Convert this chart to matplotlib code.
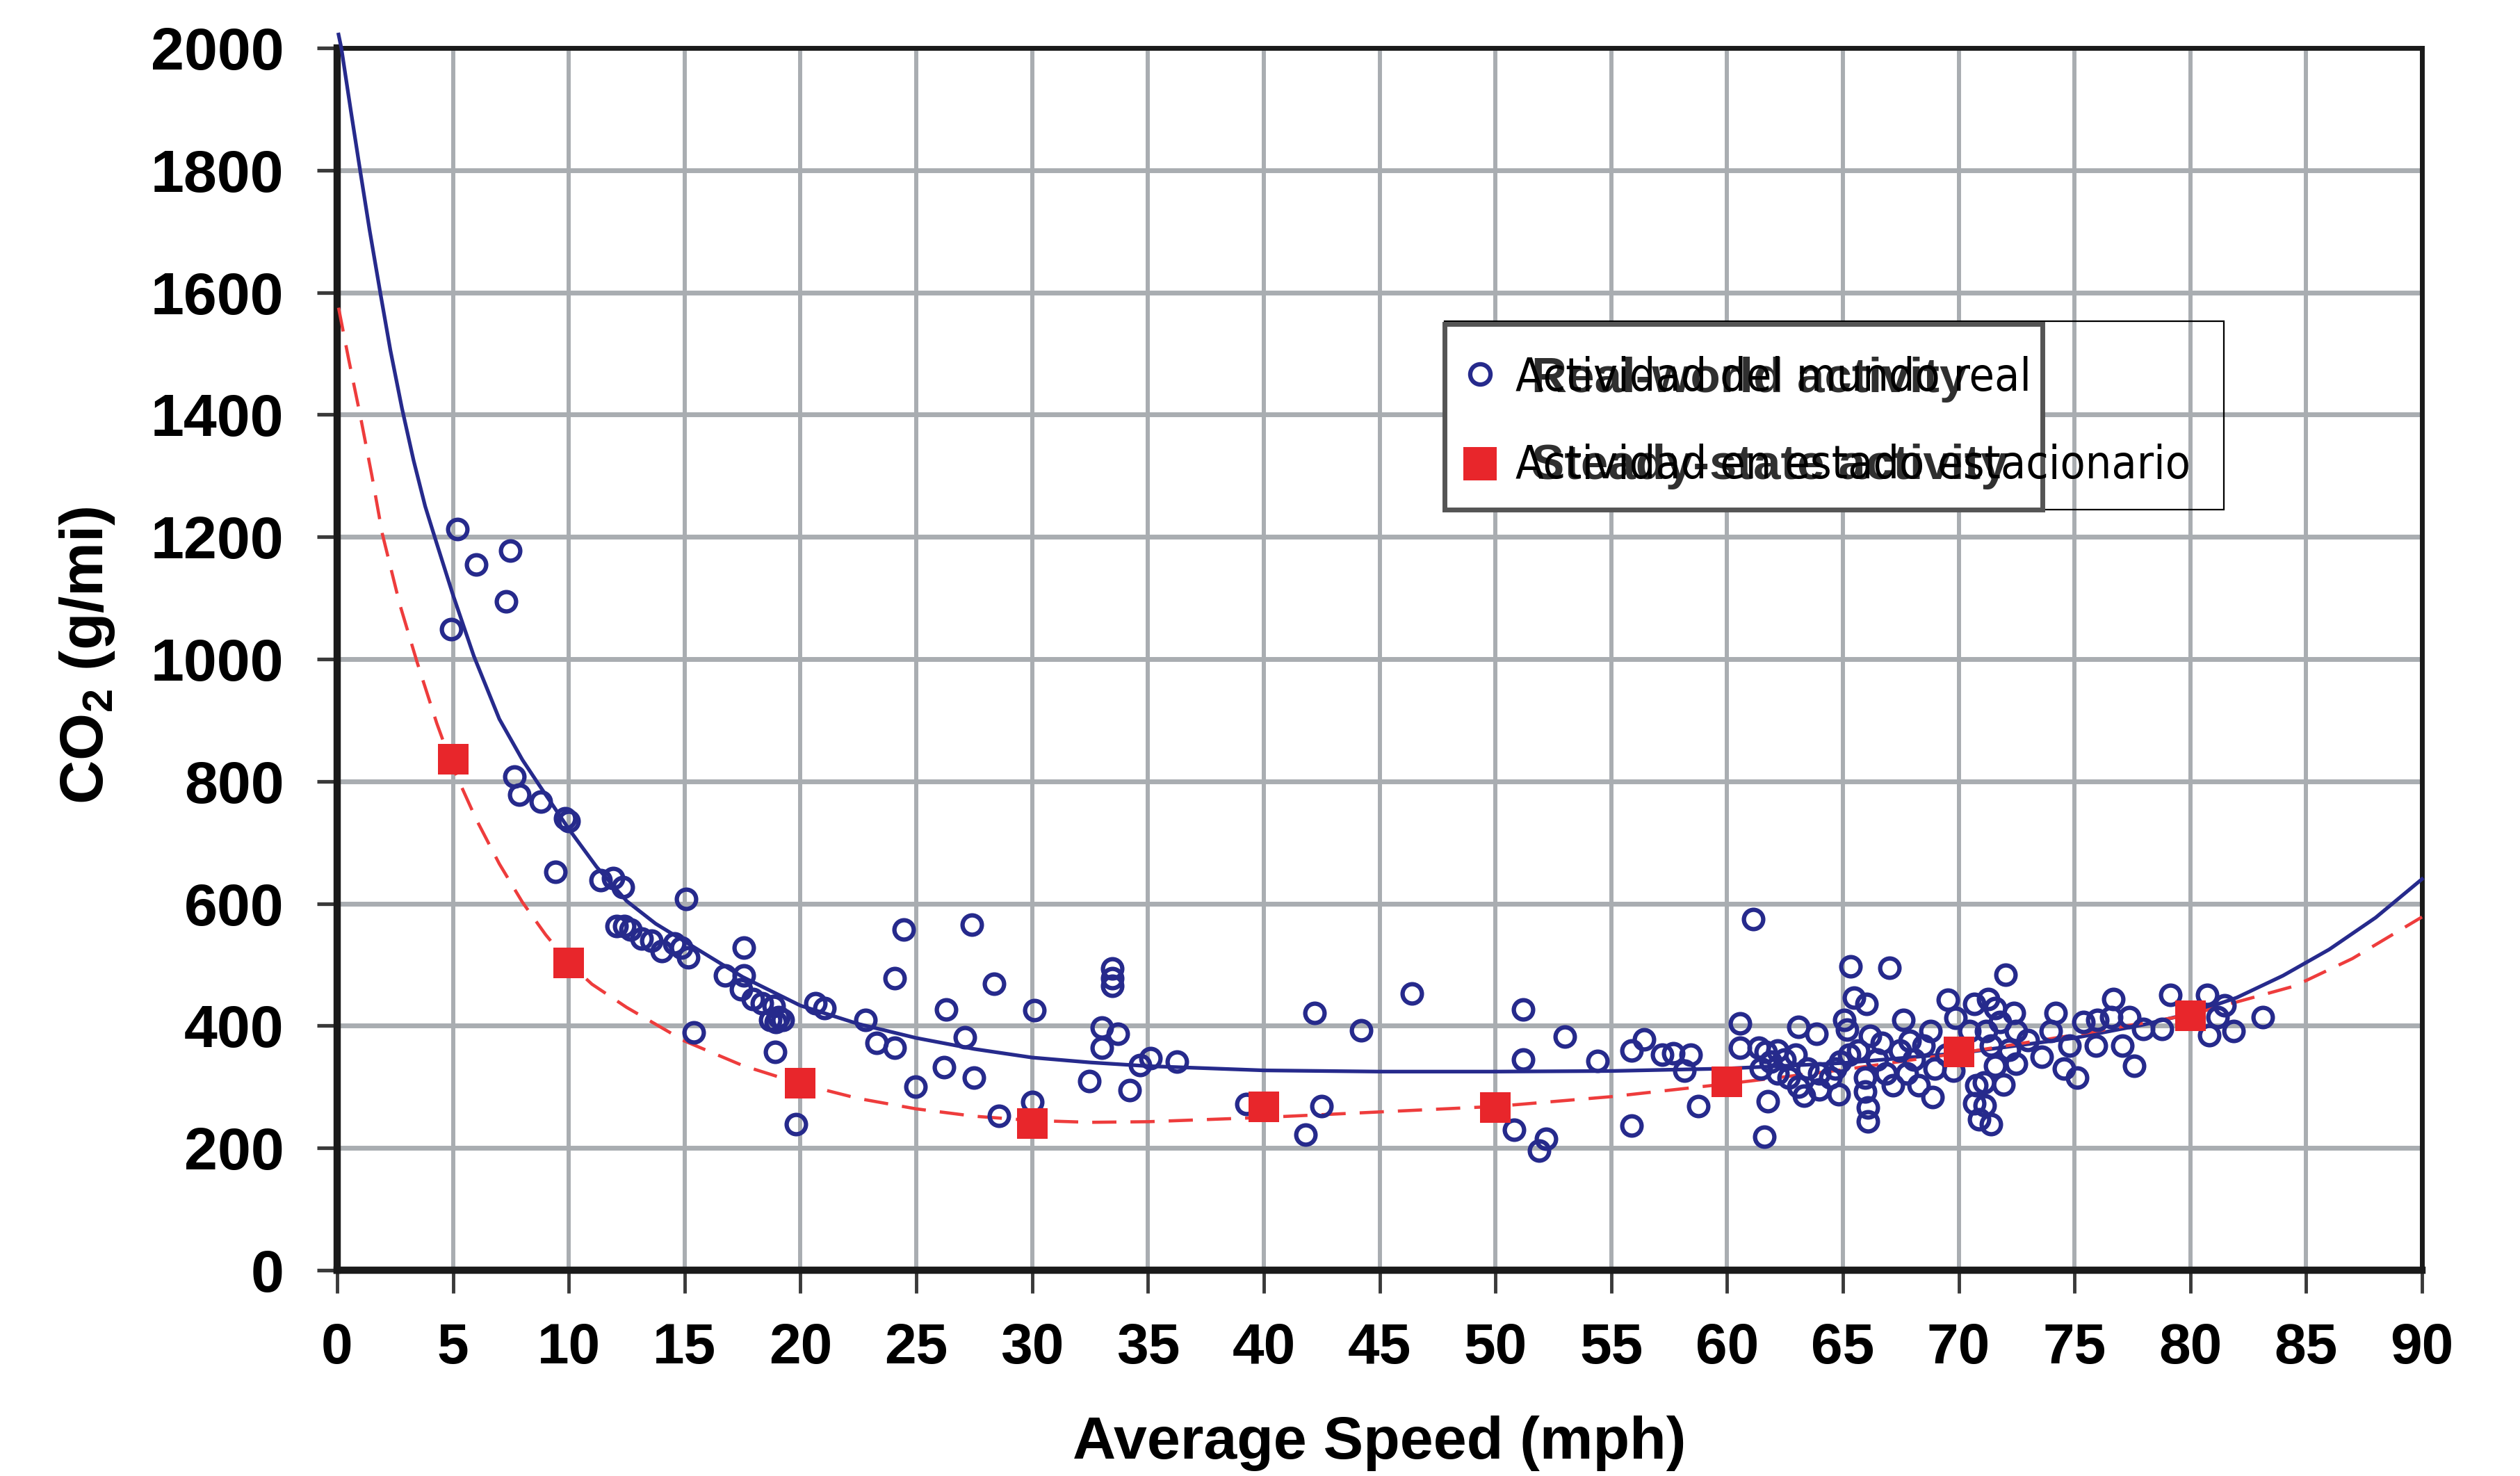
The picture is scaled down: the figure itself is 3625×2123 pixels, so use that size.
import numpy as np
import matplotlib
matplotlib.use("Agg")
import matplotlib.pyplot as plt
from matplotlib.patches import Rectangle
from matplotlib.lines import Line2D

# Data
# Real-world activity (scatter): average speed (mph), CO2 (g/mi)
real_speed = [4.92, 5.19, 6.0, 7.3, 7.47, 7.65, 7.85, 8.8, 9.42, 9.85, 10.0,
              11.37, 11.9, 12.33, 12.07, 12.4, 12.66, 13.15, 13.55, 14.0, 14.55, 14.85, 15.07, 15.15, 15.4,
              16.75, 17.45, 17.56, 17.56, 17.95, 18.35, 18.85, 18.7, 18.95, 19.06, 19.25, 18.9, 19.8,
              20.65, 21.05, 22.8, 23.3, 24.06, 24.06, 24.46, 24.97,
              26.2, 26.3, 27.1, 27.4, 27.5, 28.36, 28.57, 30.1, 30.0,
              32.47, 33.0, 33.0, 33.46, 33.46, 33.46, 33.7, 34.2, 34.66, 35.1, 36.25, 39.25,
              41.8, 42.2, 42.5, 44.2, 46.4,
              50.8, 51.2, 51.2, 51.9, 52.2, 53.0, 54.4, 55.88, 55.88, 56.41, 57.2, 57.67, 58.42, 58.17, 58.77,
              60.57, 60.57, 61.12, 61.37, 61.67, 61.47, 61.77, 61.62, 61.87, 62.17, 62.17, 62.47, 62.67,
              62.97, 63.07, 63.07, 63.32, 63.47, 63.87, 63.97, 63.97, 64.47, 64.67, 64.82, 64.87, 65.07,
              65.17, 65.32, 65.47, 66.02, 65.27, 65.67, 65.97, 65.97, 66.07, 66.07, 66.17, 66.47, 66.67,
              66.87, 67.02, 67.17, 67.47, 67.62, 67.77, 67.87, 68.07, 68.27, 68.47, 68.77, 68.87, 68.97,
              69.47, 69.52, 69.87, 69.77, 70.47, 70.67, 70.77, 70.67, 70.87,
              72.03, 71.28, 71.58, 71.18, 71.78, 72.38, 72.48, 71.38, 72.18, 71.58, 72.48, 71.93, 71.08,
              71.13, 71.38, 72.98, 73.58, 74.18, 73.98, 74.53, 75.13, 74.78, 75.38, 75.93, 75.98, 76.58,
              76.68, 77.08, 77.38, 77.58, 77.98, 78.78, 79.13, 80.73, 81.18, 80.83, 81.88, 81.48, 83.13]
real_co2 = [1049, 1213, 1155, 1094, 1178, 808, 778, 767, 652, 740, 735,
            638, 642, 627, 563, 563, 557, 543, 539, 522, 535, 528, 607, 512, 389,
            482, 460, 528, 482, 444, 437, 432, 410, 406, 414, 410, 357, 239,
            437, 429, 410, 372, 364, 478, 557, 300,
            332, 427, 381, 565, 315, 469, 253, 425, 275,
            309, 397, 364, 494, 478, 465, 387, 295, 336, 347, 341, 272,
            222, 421, 269, 392, 453,
            230, 427, 345, 196, 215, 382, 343, 237, 360, 378, 353, 355, 353, 326, 269,
            404, 364, 575, 364, 357, 330, 277, 218, 341, 360, 322, 345, 315,
            353, 398, 300, 286, 330, 387, 322, 296, 315, 330, 288, 341, 410,
            394, 497, 446, 436, 353, 360, 315, 292, 266, 243, 383, 345, 372,
            322, 495, 303, 360, 410, 322, 375, 345, 303, 368, 391, 283, 330,
            353, 442, 413, 326, 391, 436, 303, 273, 247,
            484, 444, 429, 391, 406, 421, 391, 368, 361, 334, 338, 304, 307,
            270, 239, 376, 349, 421, 391, 330, 315, 368, 406, 368, 410, 414,
            444, 368, 414, 334, 395, 395, 451, 451, 414, 385, 391, 433, 414]

# Steady-state activity (squares)
steady_speed = [5, 10, 20, 30, 40, 50, 60, 70, 80]
steady_co2 = [836, 503, 306, 240, 267, 266, 308, 357, 416]

# Fitted curve through real-world activity (solid blue)
fit_real_speed = [0.06, 0.18, 0.6, 0.99, 1.4, 1.86, 2.3, 2.8, 3.3, 3.8, 4.25, 5.0, 5.9, 7.0, 8.0,
                  8.7, 10.0, 11.2, 12.5, 13.75, 15.0, 17.5, 20.0, 22.5, 25.0, 27.5, 30.0, 32.5,
                  35.0, 40.0, 45.0, 50.0, 55.0, 60.0, 65.0, 70.0, 75.0, 78.0, 80.0, 82.0, 84.0,
                  86.0, 88.0, 90.0]
fit_real_co2 = [2022, 2000, 1895, 1800, 1702, 1600, 1505, 1410, 1325, 1250, 1195, 1105, 1005, 902, 835,
                795, 722, 660, 604, 567, 538, 480, 433, 403, 380, 362, 348, 340,
                334, 327, 325, 325, 326, 330, 339, 355, 380, 402, 420, 446, 482,
                525, 577, 640]

# Fitted curve through steady-state activity (dashed red)
fit_steady_speed = [0.06, 0.5, 1.0, 1.5, 1.95, 2.7, 3.45, 4.3, 5.0, 6.0, 7.0, 8.0, 9.0, 10.0, 11.0,
                    12.5, 15.0, 17.5, 20.0, 22.5, 25.0, 27.5, 30.0, 32.5, 35.0, 40.0, 45.0, 50.0,
                    55.0, 60.0, 65.0, 70.0, 75.0, 80.0, 84.5, 87.0, 90.0]
fit_steady_co2 = [1575, 1490, 1398, 1300, 1205, 1090, 995, 895, 822, 738, 665, 602, 549, 503, 468,
                  430, 375, 335, 305, 281, 264, 252, 245, 242, 243, 250, 259, 268,
                  284, 305, 328, 355, 385, 418, 465, 510, 578]

x_ticks = np.arange(0, 91, 5)
y_ticks = np.arange(0, 2001, 200)

label_en = ["Real-world activity", "Steady-state activity"]
label_es = ["Actividad del mundo real", "Actividad en estado estacionario"]

BLUE = "#262a8c"
RED = "#e8262b"
RED_LINE = "#ee3c3c"
GRID = "#a9adb1"

plt.rcParams["font.family"] = "Liberation Sans"
plt.rcParams["font.weight"] = "bold"
plt.rcParams["mathtext.fontset"] = "custom"
plt.rcParams["mathtext.rm"] = "Liberation Sans:bold"
plt.rcParams["mathtext.bf"] = "Liberation Sans:bold"

W, H = 3625, 2123
fig = plt.figure(figsize=(W / 100, H / 100), dpi=100)
ax = fig.add_axes([485 / W, 1 - 1827 / H, 2999 / W, 1758 / H])


def fx(px):
    return px / W


def fy(py):
    return 1 - py / H


# Curves and points
ax.plot(fit_real_speed, fit_real_co2, "-", color=BLUE, linewidth=3.8, zorder=3, clip_on=False)
ax.plot(fit_steady_speed, fit_steady_co2, "--", color=RED_LINE, linewidth=3.3,
        dashes=(7.6, 4.4), zorder=3, clip_on=False)
ax.plot(real_speed, real_co2, "o", markerfacecolor="none", markeredgecolor=BLUE,
        markersize=20, markeredgewidth=4.5, zorder=4)
ax.plot(steady_speed, steady_co2, "s", color=RED, markersize=31, markeredgewidth=0, zorder=5)

# Axes setup
ax.set_xlim(0, 90)
ax.set_ylim(0, 2000)
ax.set_xticks(x_ticks)
ax.set_yticks(y_ticks)
ax.set_axisbelow(True)
ax.xaxis.grid(True, color=GRID, linewidth=4.3)
ax.yaxis.grid(True, color=GRID, linewidth=5)
ax.tick_params(axis="y", direction="out", length=21, width=3.8, color="#3a3a3a",
               pad=34, labelsize=62)
ax.tick_params(axis="x", direction="out", length=24, width=3.5, color="#3a3a3a",
               pad=30, labelsize=59)
for side in ["left", "bottom"]:
    ax.spines[side].set_linewidth(7.5)
    ax.spines[side].set_color("#1a1a1a")
for side in ["top", "right"]:
    ax.spines[side].set_linewidth(5)
    ax.spines[side].set_color("#1a1a1a")

ax.text(0.5, (1827 - 2098) / 1758, "Average Speed (mph)", transform=ax.transAxes,
        ha="center", va="baseline", fontsize=62, fontweight="bold")
ax.text((168 - 485) / 2999, 0.503, r"CO$_{\mathbf{2}}$ (g/mi)", transform=ax.transAxes,
        ha="right", va="center", rotation=90, fontsize=63, fontweight="bold")

# Legend box (original legend with the translated text laid over it)
fig.add_artist(Rectangle((fx(2078), fy(733)), fx(3199) - fx(2078), fy(462) - fy(733),
                         facecolor="none", edgecolor="black", linewidth=1.6, zorder=10))
fig.add_artist(Rectangle((fx(2078), fy(733)), fx(2938) - fx(2078), fy(466) - fy(733),
                         facecolor="white", edgecolor="#555555", linewidth=5, zorder=10))
fig.add_artist(Line2D([fx(2129)], [fy(538)], marker="o", markerfacecolor="none",
                      markeredgecolor=BLUE, markersize=21, markeredgewidth=4.5, zorder=11))
fig.add_artist(Line2D([fx(2129)], [fy(667)], marker="s", color=RED, markersize=35,
                      markeredgewidth=0, zorder=11))
fig.text(fx(2203), fy(564), label_en[0], fontsize=51, fontweight="bold", color="#303030",
         va="baseline", ha="left", zorder=12)
fig.text(fx(2203), fy(689), label_en[1], fontsize=51, fontweight="bold", color="#303030",
         va="baseline", ha="left", zorder=12)
fig.text(fx(2180), fy(562), label_es[0], fontsize=47.5, fontweight="normal", family="DejaVu Sans",
         fontstretch="condensed", color="black", va="baseline", ha="left", zorder=13)
fig.text(fx(2180), fy(688), label_es[1], fontsize=47.5, fontweight="normal", family="DejaVu Sans",
         fontstretch="condensed", color="black", va="baseline", ha="left", zorder=13)

fig.savefig("out.png", dpi=100)
